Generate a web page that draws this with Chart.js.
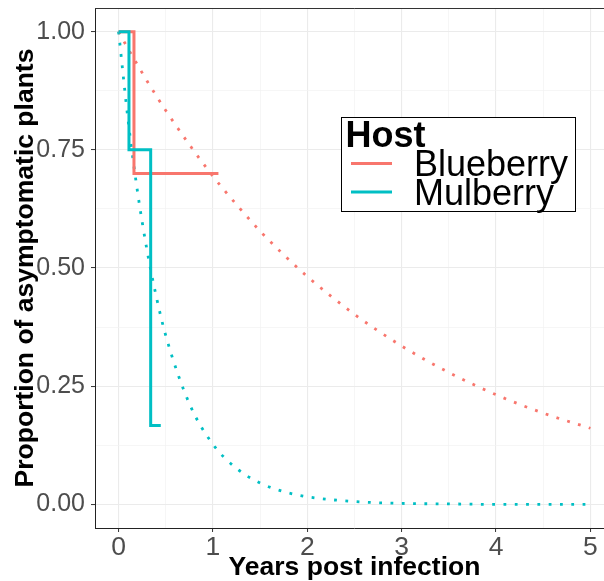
<!DOCTYPE html>
<html>
<head>
<meta charset="utf-8">
<script src="https://cdn.jsdelivr.net/npm/chart.js@4.4.0/dist/chart.umd.min.js"></script>
<style>
  html, body { margin: 0; padding: 0; background: #fff; overflow: hidden; width: 604px; height: 581px; }
</style>
</head>
<body>
<!-- the original panel runs a little past the right edge of the picture -->
<canvas id="chart" width="614" height="581"></canvas>
<script>
// === DATA ===
const hostNames = ["Blueberry", "Mulberry"];
const hostColors = ["#F8766D", "#00BFC4"];

// observed survival steps
const blueberryStepX = [0, 0.163, 1.058];
const blueberryStepY = [1, 0.70, 0.70];
const mulberryStepX = [0, 0.11, 0.34, 0.447];
const mulberryStepY = [1, 0.75, 0.167, 0.167];

// fitted curves (dotted)
const fitX = [0, 0.1, 0.2, 0.3, 0.4, 0.5, 0.75, 1, 1.25, 1.5, 1.75, 2, 2.5, 3, 3.5, 4, 4.5, 5];
const blueberryFitY = [1, 0.964, 0.930, 0.896, 0.864, 0.833, 0.761, 0.694, 0.634, 0.578, 0.528, 0.482, 0.402, 0.335, 0.279, 0.232, 0.193, 0.161];
const mulberryFitY = [1, 0.814, 0.662, 0.539, 0.439, 0.357, 0.213, 0.127, 0.076, 0.045, 0.027, 0.016, 0.006, 0.002, 0.001, 0, 0, 0];

// ticks: majors get labels, halves are minor grid lines
const xTicks = [0, 0.5, 1, 1.5, 2, 2.5, 3, 3.5, 4, 4.5, 5];
const yTicks = [0, 0.125, 0.25, 0.375, 0.5, 0.625, 0.75, 0.875, 1];

const FONT = "'Liberation Sans', Arial, Helvetica, sans-serif";

function toPoints(xs, ys) {
    return xs.map((x, i) => ({ x: x, y: ys[i] }));
}

function isMajorX(v) { return Math.abs(v - Math.round(v)) < 1e-9; }
function isMajorY(v) { return Math.abs(v * 4 - Math.round(v * 4)) < 1e-9; }

// legend box inside the panel, like the ggplot one
const hostLegend = {
    id: "hostLegend",
    afterDraw(chart) {
        const ctx = chart.ctx;
        ctx.save();
        ctx.fillStyle = "#fff";
        ctx.fillRect(341, 117, 234, 94);
        ctx.strokeStyle = "#000";
        ctx.lineWidth = 1;
        ctx.strokeRect(341.5, 117.5, 234, 94);

        ctx.fillStyle = "#000";
        ctx.textBaseline = "alphabetic";
        ctx.textAlign = "left";
        ctx.font = "bold 36px " + FONT;
        ctx.fillText("Host", 345.5, 147);

        hostNames.forEach((name, i) => {
            const y = 163.5 + i * 28.5;
            ctx.strokeStyle = hostColors[i];
            ctx.lineWidth = 3;
            ctx.beginPath();
            ctx.moveTo(351, y);
            ctx.lineTo(392, y);
            ctx.stroke();
            ctx.fillStyle = "#000";
            ctx.font = "36px " + FONT;
            ctx.fillText(name, 414, y + 12.5);
        });
        ctx.restore();
    }
};

// panel frame (top and right edges; left and bottom come from the axes)
const panelFrame = {
    id: "panelFrame",
    afterDatasetsDraw(chart) {
        const { ctx, chartArea } = chart;
        ctx.save();
        ctx.strokeStyle = "#333";
        ctx.lineWidth = 1;
        ctx.beginPath();
        ctx.moveTo(chartArea.left, chartArea.top + 0.5);
        ctx.lineTo(chartArea.right - 0.5, chartArea.top + 0.5);
        ctx.lineTo(chartArea.right - 0.5, chartArea.bottom);
        ctx.stroke();
        ctx.restore();
    }
};

const ctx = document.getElementById("chart").getContext("2d");

new Chart(ctx, {
    type: "line",
    data: {
        datasets: [
            {
                label: "Mulberry",
                data: toPoints(mulberryStepX, mulberryStepY),
                borderColor: hostColors[1],
                borderWidth: 3,
                stepped: "before",
                pointRadius: 0,
                fill: false,
                order: 0
            },
            {
                label: "Blueberry",
                data: toPoints(blueberryStepX, blueberryStepY),
                borderColor: hostColors[0],
                borderWidth: 3,
                stepped: "before",
                pointRadius: 0,
                fill: false,
                order: 1
            },
            {
                label: "Mulberry fit",
                data: toPoints(fitX, mulberryFitY),
                borderColor: hostColors[1],
                borderWidth: 2.8,
                borderDash: [2.8, 8.5],
                borderCapStyle: "butt",
                cubicInterpolationMode: "monotone",
                pointRadius: 0,
                fill: false,
                order: 2
            },
            {
                label: "Blueberry fit",
                data: toPoints(fitX, blueberryFitY),
                borderColor: hostColors[0],
                borderWidth: 2.8,
                borderDash: [2.8, 8.5],
                borderCapStyle: "butt",
                cubicInterpolationMode: "monotone",
                pointRadius: 0,
                fill: false,
                order: 3
            }
        ]
    },
    options: {
        responsive: false,
        animation: false,
        devicePixelRatio: 1,
        layout: { padding: { top: 8, right: 0, bottom: 0, left: 0 } },
        plugins: {
            legend: { display: false },
            tooltip: { enabled: false }
        },
        scales: {
            x: {
                type: "linear",
                min: -0.25,
                max: 5.25,
                afterBuildTicks: (axis) => { axis.ticks = xTicks.map(v => ({ value: v })); },
                afterFit: (axis) => {
                    axis.height = 53;
                    axis.paddingLeft = 0;
                    axis.paddingRight = 0;
                },
                ticks: {
                    autoSkip: false,
                    maxRotation: 0,
                    padding: 0,
                    color: "#4D4D4D",
                    font: { family: FONT, size: 26.5 },
                    callback: (v) => isMajorX(v) ? String(Math.round(v)) : ""
                },
                grid: {
                    color: (c) => isMajorX(c.tick.value) ? "#EBEBEB" : "#F2F2F2",
                    lineWidth: (c) => isMajorX(c.tick.value) ? 1.1 : 0.7,
                    tickColor: (c) => isMajorX(c.tick.value) ? "#333" : "rgba(0,0,0,0)",
                    tickLength: 4,
                    tickWidth: 1
                },
                border: { display: true, color: "#222", width: 1 },
                title: {
                    display: true,
                    text: "Years post infection",
                    color: "#000",
                    font: { family: FONT, size: 26.5, weight: "bold", lineHeight: 1 },
                    padding: { top: 0, bottom: 0 }
                }
            },
            y: {
                type: "linear",
                min: -0.05,
                max: 1.05,
                afterBuildTicks: (axis) => { axis.ticks = yTicks.map(v => ({ value: v })); },
                afterFit: (axis) => {
                    axis.width = 95;
                    axis.paddingTop = 0;
                    axis.paddingBottom = 0;
                },
                ticks: {
                    autoSkip: false,
                    padding: 6,
                    color: "#4D4D4D",
                    font: { family: FONT, size: 25 },
                    callback: (v) => isMajorY(v) ? v.toFixed(2) : ""
                },
                grid: {
                    color: (c) => isMajorY(c.tick.value) ? "#EBEBEB" : "#F2F2F2",
                    lineWidth: (c) => isMajorY(c.tick.value) ? 1.1 : 0.7,
                    tickColor: (c) => isMajorY(c.tick.value) ? "#333" : "rgba(0,0,0,0)",
                    tickLength: 4,
                    tickWidth: 1
                },
                border: { display: true, color: "#222", width: 1 },
                title: {
                    display: true,
                    text: "Proportion of asymptomatic plants",
                    color: "#000",
                    font: { family: FONT, size: 26.5, weight: "bold", lineHeight: 1 },
                    padding: { top: 12, bottom: 0 }
                }
            }
        }
    },
    plugins: [panelFrame, hostLegend]
});
</script>
</body>
</html>
